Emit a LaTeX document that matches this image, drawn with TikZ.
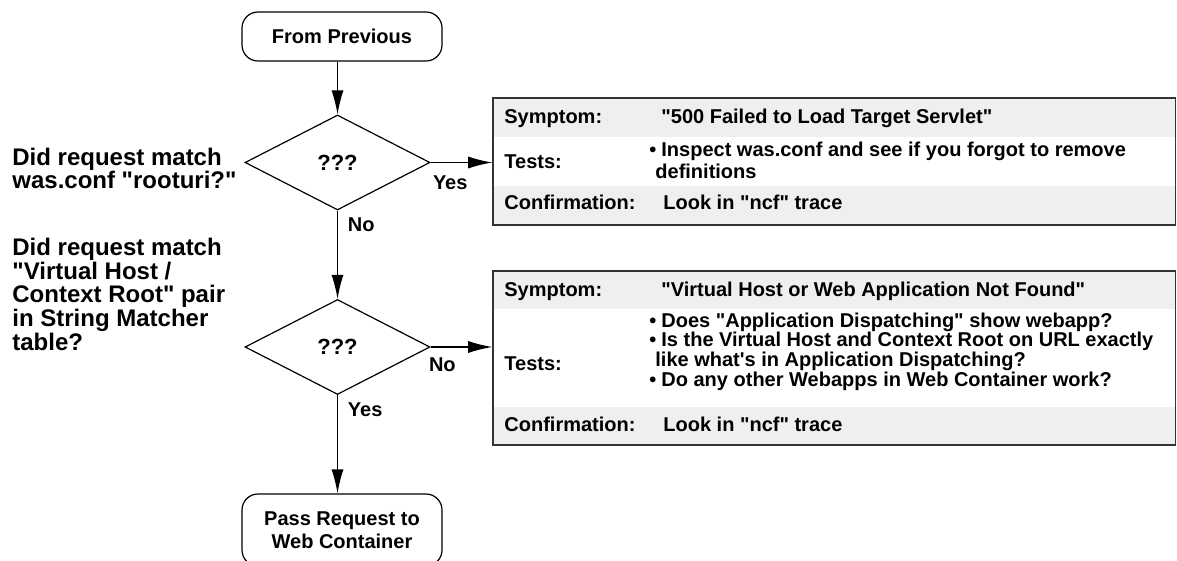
\documentclass[tikz,border=0pt]{standalone}
\usepackage{fontspec}
\setmainfont{Liberation Sans}[Ligatures=TeXOff]
\usetikzlibrary{shapes.geometric,arrows.meta,positioning}

\definecolor{rowgray}{HTML}{EFEFEF}
\definecolor{framegray}{HTML}{333333}

\tikzset{
  flow/.style={-{Latex[length=12pt,width=6pt]}, line width=0.6pt},
  terminal/.style={draw, line width=0.6pt, rounded corners=8pt, align=center,
    minimum width=100pt, font=\fontsize{10pt}{11.5pt}\selectfont\bfseries},
  decision/.style={draw, diamond, line width=0.6pt, inner sep=0pt,
    minimum width=92.5pt, minimum height=47.5pt,
    font=\fontsize{11pt}{11pt}\selectfont\bfseries},
  question/.style={anchor=base west, align=left, inner sep=0pt,
    font=\fontsize{12pt}{11.8pt}\selectfont\bfseries},
  answer/.style={inner sep=0pt, font=\fontsize{10pt}{10pt}\selectfont\bfseries},
  frame/.style={draw=framegray, line width=0.8pt, inner sep=0pt},
  celltext/.style={anchor=base west, inner sep=0pt, align=left,
    font=\fontsize{10pt}{10pt}\selectfont\bfseries},
}

\begin{document}
\begin{tikzpicture}[x=0.5pt, y=-0.5pt]
  \clip (0,0) rectangle (1177,561);

  % flow chart
  \node[terminal, minimum height=24.5pt] (prev) at (342,36.5) {From Previous};
  \node[decision] (dA) at (337.5,162.5) {???};
  \node[decision] (dB) at (337.5,347) {???};
  \node[terminal, minimum height=36pt] (pass) at (342,530) {Pass Request to\\Web Container};

  % base is the last line here
  \node[question] (qA) at (12,189) {Did request match\\was.conf "rooturi?"};
  \node[question] (qB) at (12,350) {Did request match\\"Virtual Host /\\Context Root" pair\\in String Matcher\\table?};

  % first table
  \fill[rowgray] (493,98) rectangle (1175.5,137);
  \fill[rowgray] (493,186) rectangle (1175.5,225);
  \node[frame, minimum width=341.25pt, minimum height=63.5pt] (tabA) at (834.25,161.5) {};
  \node[celltext] (symA) at (504,123.5) {Symptom:};
  \node[celltext] (symtxtA) at (661,123.5) {"500 Failed to Load Target Servlet"};
  \node[celltext, anchor=west] (testA) at (504,161.5) {Tests:};
  \node[celltext, font=\fontsize{10pt}{11pt}\selectfont\bfseries] (testtxtA) at (649,179)
    {\textbullet\hspace{2.5pt}Inspect was.conf and see if you forgot to remove\\\hspace*{3pt}definitions};
  \node[celltext] (confA) at (504,210) {Confirmation:};
  \node[celltext] (conftxtA) at (663,210) {Look in "ncf" trace};

  % second table
  \fill[rowgray] (493,271) rectangle (1175.5,309);
  \fill[rowgray] (493,407) rectangle (1175.5,445);
  \node[frame, minimum width=341.25pt, minimum height=87pt] (tabB) at (834.25,358) {};
  \node[celltext] (symB) at (504,296) {Symptom:};
  \node[celltext] (symtxtB) at (661,296) {"Virtual Host or Web Application Not Found"};
  \node[celltext, anchor=west] (testB) at (504,364) {Tests:};
  \node[celltext, font=\fontsize{10pt}{9.8pt}\selectfont\bfseries] (testtxtB) at (649,386)
    {\textbullet\hspace{2.5pt}Does "Application Dispatching" show webapp?\\
     \textbullet\hspace{2.5pt}Is the Virtual Host and Context Root on URL exactly\\
     \hspace*{3pt}like what's in Application Dispatching?\\
     \textbullet\hspace{2.5pt}Do any other Webapps in Web Container work?};
  \node[celltext] (confB) at (504,431) {Confirmation:};
  \node[celltext] (conftxtB) at (663,431) {Look in "ncf" trace};

  % connectors
  \draw[flow] (dA.north |- prev.south) -- (dA.north);
  \draw[flow] (dA.south) -- (dB.north);
  \draw[flow] (dB.south) -- (dB.south |- pass.north);
  \draw[flow] (dA.east) -- (dA.east -| tabA.west);
  \draw[flow] (dB.east) -- (dB.east -| tabB.west);

  \node[answer, below right=6.5pt and 1pt of dA.east] (yesA) {Yes};
  \node[answer, below right=3.5pt and 5pt of dA.south] (noA) {No};
  \node[answer, below right=5pt and -1pt of dB.east] (noB) {No};
  \node[answer, below right=3.5pt and 5pt of dB.south] (yesB) {Yes};
\end{tikzpicture}
\end{document}
